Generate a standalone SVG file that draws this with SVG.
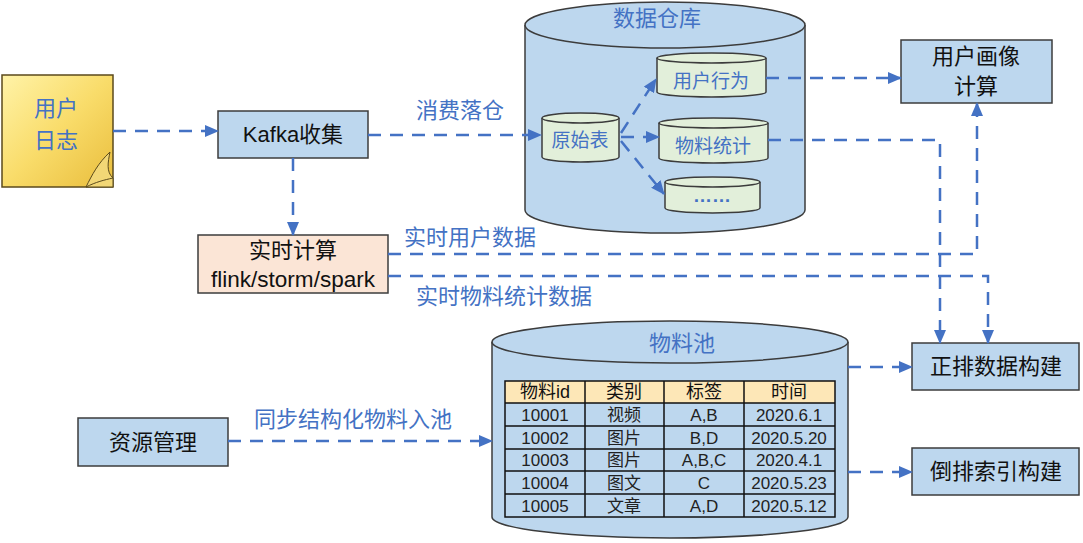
<svg xmlns="http://www.w3.org/2000/svg" width="1083" height="543" viewBox="0 0 1083 543">
<style>
text{font-family:"Liberation Sans","Noto Sans CJK SC",sans-serif;text-anchor:middle;dominant-baseline:central}
.box{fill:#bdd7ee;stroke:#3c3c3c;stroke-width:1.5}
.cyl{fill:#bdd7ee;stroke:#3c3c3c;stroke-width:1.5}
.scyl{fill:#e2efda;stroke:#3c3c3c;stroke-width:1.5}
.t{fill:#111;font-size:22px}
.lb{fill:#4472c4;font-size:22px}
.st{fill:#4472c4;font-size:19px}
.conn{fill:none;stroke:#4472c4;stroke-width:2.5;stroke-dasharray:13 9}
.tc{font-size:17px;fill:#222}
.th{font-size:18px;fill:#111}
.grid{stroke:#111;stroke-width:1.5;fill:none}
</style>
<defs>
<linearGradient id="note" x1="0" y1="0" x2="1" y2="1">
<stop offset="0" stop-color="#fff3a8"/>
<stop offset="0.5" stop-color="#f9dc6a"/>
<stop offset="1" stop-color="#e9bd3c"/>
</linearGradient>
<marker id="ah" markerWidth="14" markerHeight="12" refX="13" refY="6" orient="auto" markerUnits="userSpaceOnUse">
<path d="M0,0 L14,6 L0,12 Z" fill="#4472c4"/>
</marker>
</defs>

<g id="user-log">
<rect x="2" y="75" width="111" height="112" fill="url(#note)" stroke="#5b4a1c" stroke-width="1.5"/>
<path d="M86,187 C92,175 98,163 110,152 C108,162 106,172 113,178 L113,187 Z" fill="#f2d776" stroke="#5b4a1c" stroke-width="1"/>
<path d="M86,187 C96,182 104,180 113,178" fill="none" stroke="#5b4a1c" stroke-width="1"/>
<text class="lb" x="56" y="108">用户</text>
<text class="lb" x="56" y="140">日志</text>
</g>

<g id="kafka">
<rect class="box" x="218" y="111" width="150" height="47"/>
<text class="t" x="293" y="134" font-size="21">Kafka收集</text>
</g>

<g id="realtime">
<rect x="198" y="235" width="190" height="58" fill="#fbe5d6" stroke="#3c3c3c" stroke-width="1.5"/>
<text class="t" x="293" y="250">实时计算</text>
<text class="t" x="293" y="279" font-size="20" textLength="164" lengthAdjust="spacingAndGlyphs">flink/storm/spark</text>
</g>

<g id="warehouse">
<path class="cyl" d="M525,25 V210 A140,23 0 0 0 805,210 V25"/>
<ellipse class="cyl" cx="665" cy="25" rx="140" ry="23"/>
<text class="lb" x="657" y="18">数据仓库</text>
</g>

<g id="raw-table">
<path class="scyl" d="M542,118 V157 A38.5,5 0 0 0 619,157 V118"/>
<ellipse class="scyl" cx="580.5" cy="118" rx="38.5" ry="5"/>
<text class="st" x="580" y="140" font-size="17">原始表</text>
</g>

<g id="user-behavior">
<path class="scyl" d="M657,58 V92 A54.5,5 0 0 0 766,92 V58"/>
<ellipse class="scyl" cx="711.5" cy="58" rx="54.5" ry="5"/>
<text class="st" x="711" y="81">用户行为</text>
</g>

<g id="item-stats">
<path class="scyl" d="M659,123 V158 A54.5,5 0 0 0 768,158 V123"/>
<ellipse class="scyl" cx="713.5" cy="123" rx="54.5" ry="5"/>
<text class="st" x="713" y="146">物料统计</text>
</g>

<g id="more">
<path class="scyl" d="M665,182 V208 A47.5,5 0 0 0 760,208 V182"/>
<ellipse class="scyl" cx="712.5" cy="182" rx="47.5" ry="5"/>
<text class="st" x="712" y="195" font-weight="bold">……</text>
</g>

<g id="user-profile">
<rect class="box" x="901" y="40" width="151" height="63"/>
<text class="t" x="976" y="56">用户画像</text>
<text class="t" x="976" y="86">计算</text>
</g>

<g id="item-pool">
<path class="cyl" d="M492,342 V517 A178,21 0 0 0 848,517 V342"/>
<ellipse class="cyl" cx="670" cy="342" rx="178" ry="21"/>
<text class="lb" x="682" y="343">物料池</text>
<rect x="505" y="381" width="330" height="22" fill="#fde7b7"/>
<rect x="505" y="403" width="330" height="114" fill="#bdd7ee"/>
<rect class="grid" x="505" y="381" width="330" height="136" stroke-width="2"/>
<path class="grid" d="M585,381 V517 M664,381 V517 M744,381 V517 M505,403 H835 M505,426 H835 M505,449 H835 M505,471 H835 M505,494 H835"/>
<text class="th" x="545" y="392">物料id</text>
<text class="th" x="624" y="392">类别</text>
<text class="th" x="704" y="392">标签</text>
<text class="th" x="789" y="392">时间</text>
<text class="tc" x="545" y="415">10001</text><text class="tc" x="624" y="415">视频</text><text class="tc" x="704" y="415">A,B</text><text class="tc" x="789" y="415">2020.6.1</text>
<text class="tc" x="545" y="438">10002</text><text class="tc" x="624" y="438">图片</text><text class="tc" x="704" y="438">B,D</text><text class="tc" x="789" y="438">2020.5.20</text>
<text class="tc" x="545" y="460">10003</text><text class="tc" x="624" y="460">图片</text><text class="tc" x="704" y="460">A,B,C</text><text class="tc" x="789" y="460">2020.4.1</text>
<text class="tc" x="545" y="483">10004</text><text class="tc" x="624" y="483">图文</text><text class="tc" x="704" y="483">C</text><text class="tc" x="789" y="483">2020.5.23</text>
<text class="tc" x="545" y="506">10005</text><text class="tc" x="624" y="506">文章</text><text class="tc" x="704" y="506">A,D</text><text class="tc" x="789" y="506">2020.5.12</text>
</g>

<g id="forward-index">
<rect class="box" x="912" y="343" width="167" height="47"/>
<text class="t" x="996" y="366">正排数据构建</text>
</g>

<g id="inverted-index">
<rect class="box" x="912" y="448" width="167" height="47"/>
<text class="t" x="996" y="471">倒排索引构建</text>
</g>

<g id="resource">
<rect class="box" x="78" y="418" width="150" height="48"/>
<text class="t" x="153" y="442">资源管理</text>
</g>

<g id="connectors">
<path class="conn" d="M113,131 H218" marker-end="url(#ah)"/>
<path class="conn" d="M368,135 H541" marker-end="url(#ah)"/>
<path class="conn" d="M293,158 V235" marker-end="url(#ah)"/>
<path class="conn" d="M621,133 L656,79" marker-end="url(#ah)"/>
<path class="conn" d="M621,137 H659" marker-end="url(#ah)"/>
<path class="conn" d="M621,141 L664,194" marker-end="url(#ah)"/>
<path class="conn" d="M766,78 H901" marker-end="url(#ah)"/>
<path class="conn" d="M768,140 H940 V343" marker-end="url(#ah)"/>
<path class="conn" d="M388,254 H977 V103" marker-end="url(#ah)"/>
<path class="conn" d="M388,276 H988 V343" marker-end="url(#ah)"/>
<path class="conn" d="M848,367 H912" marker-end="url(#ah)"/>
<path class="conn" d="M848,472 H912" marker-end="url(#ah)"/>
<path class="conn" d="M228,441 H492" marker-end="url(#ah)"/>
<text class="lb" x="460" y="110">消费落仓</text>
<text class="lb" x="470" y="237">实时用户数据</text>
<text class="lb" x="504" y="296">实时物料统计数据</text>
<text class="lb" x="353" y="419">同步结构化物料入池</text>
</g>
</svg>
